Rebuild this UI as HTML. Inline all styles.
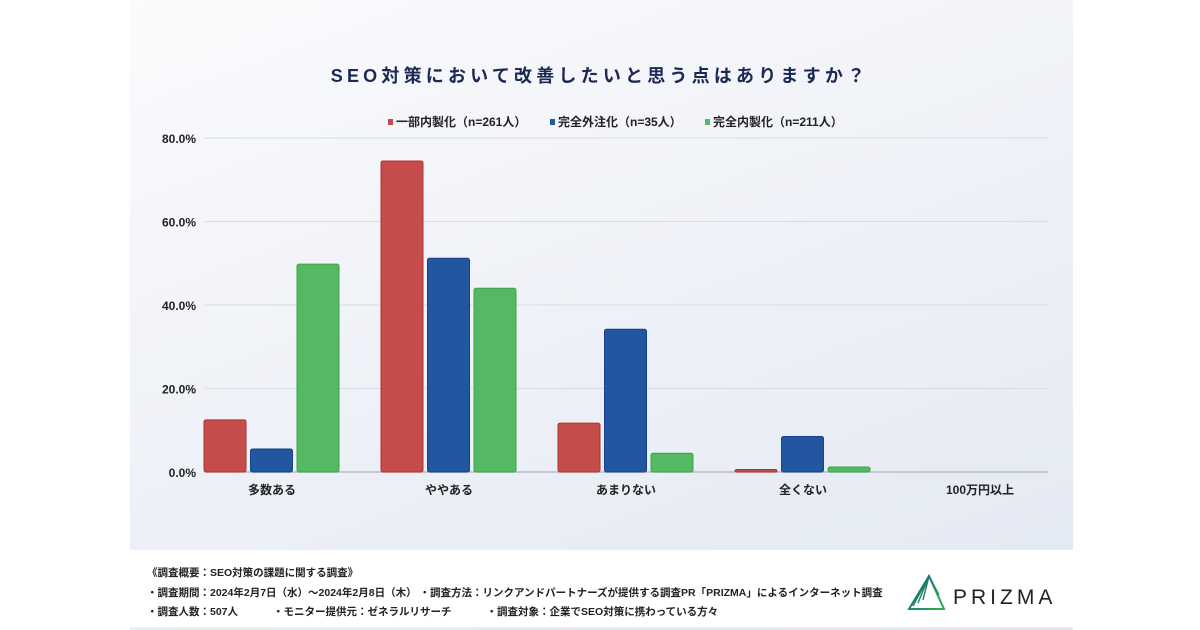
<!DOCTYPE html>
<html><head><meta charset="utf-8"><style>
body{margin:0;width:1200px;height:630px;background:#fff;position:relative;overflow:hidden;font-family:"Liberation Sans","Noto Sans CJK JP",sans-serif}
#card{position:absolute;left:130px;top:0;width:943px;height:630px;background:linear-gradient(160deg,#fbfbfd 0%,#eef1f7 50%,#e2e8f2 100%)}
#footer{position:absolute;left:130px;top:550px;width:943px;height:77px;background:#fff}
.ft{position:absolute;left:147px;font-size:10.5px;color:#222;font-weight:bold;white-space:pre}
</style></head><body>
<div id="card"></div>
<svg width="1200" height="630" style="position:absolute;left:0;top:0" id="chart">
<text x="600" y="82" text-anchor="middle" font-size="18" font-weight="bold" fill="#1b2a55" letter-spacing="4.2">SEO対策において改善したいと思う点はありますか？</text>
<g id="legend"></g>
<g id="grid"></g><g id="bars"></g><g id="labels"></g>
</svg>
<div id="footer"></div>
<div class="ft" style="top:565px">《調査概要：SEO対策の課題に関する調査》</div>
<div class="ft" style="top:585px">・調査期間：2024年2月7日（水）～2024年2月8日（木） ・調査方法：リンクアンドパートナーズが提供する調査PR「PRIZMA」によるインターネット調査</div>
<div class="ft" style="top:604px">・調査人数：507人            ・モニター提供元：ゼネラルリサーチ            ・調査対象：企業でSEO対策に携わっている方々</div>
<svg width="160" height="50" style="position:absolute;left:905px;top:573px">
<defs><linearGradient id="lg" x1="0" y1="0" x2="1" y2="1"><stop offset="0" stop-color="#1a5a8a"/><stop offset="1" stop-color="#2eb04a"/></linearGradient></defs>
<polygon points="24,3 4,36 39,36" fill="none" stroke="url(#lg)" stroke-width="2"/>
<path d="M24,3 L8,33 M24,3 L13,30 M24,3 L18,27 M24,3 L34,22" stroke="url(#lg)" stroke-width="1.5"/>
<text x="48" y="31" font-size="21" fill="#222" letter-spacing="4" font-family="Liberation Sans, sans-serif">PRIZMA</text>
</svg>
<script>
const categories=["多数ある","ややある","あまりない","全くない","100万円以上"];
const seriesNames=["一部内製化（n=261人）","完全外注化（n=35人）","完全内製化（n=211人）"];
const redValues=[12.5,74.5,11.7,0.6,0];
const blueValues=[5.5,51.2,34.2,8.5,0];
const greenValues=[49.8,44.0,4.5,1.2,0];
const yTicks=[0,20,40,60,80];
const tickLabels=["0.0%","20.0%","40.0%","60.0%","80.0%"];
const NS="http://www.w3.org/2000/svg";
const fills=["#c44d4b","#2356a0","#55b862"],strokes=["#b03232","#1a3f8c","#3aa64a"];
const y=v=>472-v*334/80;
const xc=i=>272+i*177;
function mk(t,a,p){const e=document.createElementNS(NS,t);for(const k in a)e.setAttribute(k,a[k]);p.appendChild(e);return e;}
const grid=document.getElementById('grid'),bars=document.getElementById('bars'),labels=document.getElementById('labels'),legend=document.getElementById('legend');
yTicks.forEach((t,i)=>{
 const l=mk('line',{x1:205,x2:1048,y1:y(t),y2:y(t),stroke:t===0?'#b8bcc4':'#d8dce3','stroke-width':t===0?1.5:1},grid);
 
 
 const tx=mk('text',{x:196,y:y(t)+5,'text-anchor':'end','font-size':12,'font-weight':'bold',fill:'#222'},labels);
 tx.textContent=tickLabels[i];
 
 
});
[redValues,blueValues,greenValues].forEach((vals,s)=>{
 vals.forEach((v,i)=>{
  if(v<=0)return;
  const x=xc(i)-68+s*46.5;
  const r=mk('rect',{x:x,y:y(v),width:42,height:472-y(v),fill:fills[s],stroke:strokes[s],'stroke-width':1,rx:2},bars);
  
  
 });
});
categories.forEach((c,i)=>{
 const t=mk('text',{x:xc(i),y:494,'text-anchor':'middle','font-size':12,'font-weight':'bold',fill:'#222'},labels);
 t.textContent=c;
 
 
});
const lx=[396,558,713];
seriesNames.forEach((n,s)=>{
 const r=mk('rect',{x:lx[s]-8,y:119,width:5,height:6,fill:fills[s]},legend);
 
 
 const t=mk('text',{x:lx[s],y:126,'font-size':12,'font-weight':'bold',fill:'#222'},legend);
 t.textContent=n;
 
 
});
</script>
</body></html>
